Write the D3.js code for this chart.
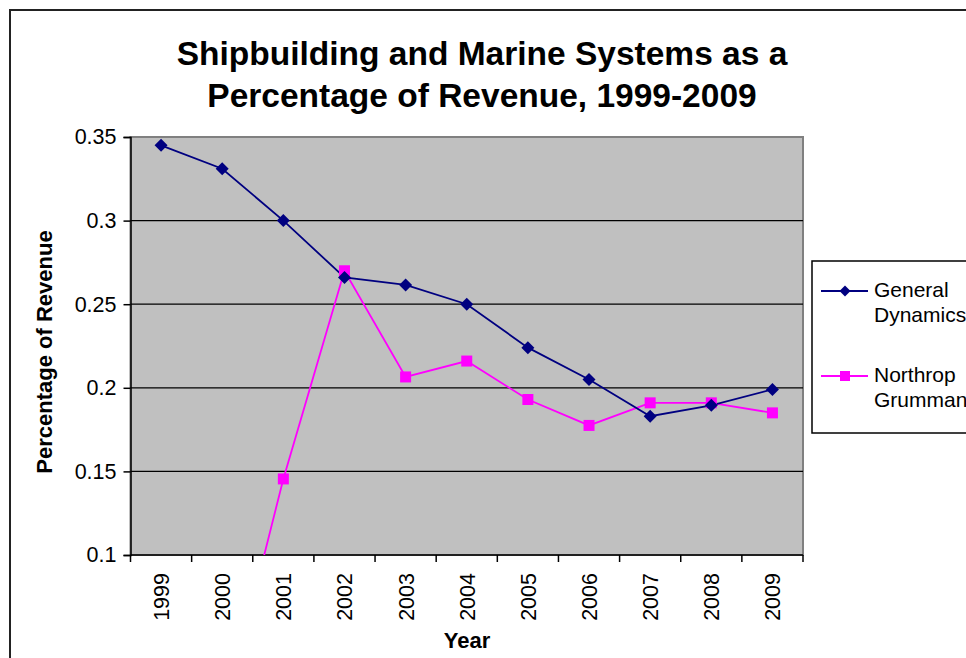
<!DOCTYPE html>
<html><head><meta charset="utf-8">
<script src="https://cdn.jsdelivr.net/npm/d3@7"></script>
<style>body{margin:0;background:#fff}svg{display:block}</style>
</head><body>
<svg id="c" width="966" height="658"></svg>
<script>
const years = ["1999","2000","2001","2002","2003","2004","2005","2006","2007","2008","2009"];
const generalDynamics = [0.345,0.331,0.300,0.266,0.2615,0.250,0.224,0.205,0.183,0.1895,0.199];
const northropGrumman = [0,0,0.1455,0.270,0.2065,0.216,0.193,0.1775,0.191,0.191,0.185];
const yTicks = [0.1,0.15,0.2,0.25,0.3,0.35];
const seriesNames = ["General Dynamics","Northrop Grumman"];

const svg = d3.select("#c");
const font = "Liberation Sans, Arial, sans-serif";
svg.append("rect").attr("x",10).attr("y",10).attr("width",980).attr("height",680)
  .attr("fill","#fff").attr("stroke","#222").attr("stroke-width",2);

const L=130.5, R=803, T=137, B=555;
const x = d3.scaleBand().domain(years).range([L,R]);
const y = d3.scaleLinear().domain([0.1,0.35]).range([B,T]);

svg.append("rect").attr("x",L).attr("y",T).attr("width",R-L).attr("height",B-T).attr("fill","#C0C0C0")
  .attr("stroke","#808080").attr("stroke-width",2);

svg.append("g").selectAll("line").data(yTicks.filter(v=>v>0.1&&v<0.35)).join("line")
  .attr("x1",L).attr("x2",R).attr("y1",d=>y(d)).attr("y2",d=>y(d)).attr("stroke","#000").attr("stroke-width",1.2);

const ya = svg.append("g").attr("transform",`translate(${L},0)`)
  .call(d3.axisLeft(y).tickValues(yTicks).tickFormat(d=>String(+d.toFixed(2))).tickSizeOuter(0).tickSize(7).tickPadding(7));
ya.select(".domain").attr("stroke","#000").attr("stroke-width",1.5);
ya.selectAll(".tick line").attr("stroke","#000").attr("stroke-width",1.5);
ya.selectAll("text").attr("font-family",font).attr("font-size",21.5).attr("fill","#000");

const xa = svg.append("g").attr("transform",`translate(0,${B})`);
xa.append("line").attr("x1",L).attr("x2",R).attr("stroke","#000").attr("stroke-width",1.5);
const bounds = years.map(d=>x(d)).concat([R]);
xa.selectAll("line.tk").data(bounds).join("line").attr("class","tk")
  .attr("x1",d=>d).attr("x2",d=>d).attr("y1",0).attr("y2",7).attr("stroke","#000").attr("stroke-width",1.5);
xa.selectAll("text").data(years).join("text")
  .attr("transform",d=>`translate(${x(d)+x.bandwidth()/2+8},18) rotate(-90)`)
  .attr("text-anchor","end").attr("font-family",font).attr("font-size",21.5).text(d=>d);

svg.append("clipPath").attr("id","pc").append("rect").attr("x",L).attr("y",T-10).attr("width",R-L+10).attr("height",B-T+10);

const cx = d=>x(d)+x.bandwidth()/2;
const line = d3.line().x((d,i)=>cx(years[i])).y(d=>y(d));
const g = svg.append("g").attr("clip-path","url(#pc)");
g.append("path").datum(northropGrumman).attr("d",line).attr("fill","none").attr("stroke","#FF00FF").attr("stroke-width",1.8);
g.append("path").datum(generalDynamics).attr("d",line).attr("fill","none").attr("stroke","#000080").attr("stroke-width",1.8);

const diamond = (px,py,s)=>`M${px},${py-s}L${px+s},${py}L${px},${py+s}L${px-s},${py}Z`;
northropGrumman.forEach((d,i)=>{ if(d>=0.1) g.append("rect").attr("x",cx(years[i])-5.5).attr("y",y(d)-5.5).attr("width",11).attr("height",11).attr("fill","#FF00FF"); });
g.selectAll("path.gd").data(generalDynamics).join("path").attr("class","gd")
  .attr("d",(d,i)=>diamond(cx(years[i]),y(d),6.5)).attr("fill","#000080");

const title = svg.append("text").attr("text-anchor","middle").attr("font-family",font).attr("font-weight","bold").attr("font-size",33.5);
title.append("tspan").attr("x",482).attr("y",65).text("Shipbuilding and Marine Systems as a");
title.append("tspan").attr("x",482).attr("y",107).text("Percentage of Revenue, 1999-2009");

svg.append("text").attr("transform","translate(52,352) rotate(-90)").attr("text-anchor","middle")
  .attr("font-family",font).attr("font-weight","bold").attr("font-size",22).text("Percentage of Revenue");
svg.append("text").attr("x",467).attr("y",648).attr("text-anchor","middle")
  .attr("font-family",font).attr("font-weight","bold").attr("font-size",22).text("Year");

svg.append("rect").attr("x",812).attr("y",261).attr("width",200).attr("height",172).attr("fill","#fff").attr("stroke","#000").attr("stroke-width",1.5);
const lg = [{ly:291, c:"#000080", t:["General","Dynamics"], m:"d"},{ly:376, c:"#FF00FF", t:["Northrop","Grumman"], m:"s"}];
lg.forEach((e,i)=>{
  svg.append("line").attr("x1",821).attr("x2",868).attr("y1",e.ly).attr("y2",e.ly).attr("stroke",e.c).attr("stroke-width",1.8);
  if(e.m==="d") svg.append("path").attr("d",diamond(845,e.ly,5.5)).attr("fill",e.c);
  else svg.append("rect").attr("x",840).attr("y",e.ly-5).attr("width",10).attr("height",10).attr("fill",e.c);
  const t = svg.append("text").attr("font-family",font).attr("font-size",21);
  t.append("tspan").attr("x",874).attr("y",e.ly+6).text(e.t[0]);
  t.append("tspan").attr("x",874).attr("y",e.ly+31).text(e.t[1]);
});
</script>
</body></html>
